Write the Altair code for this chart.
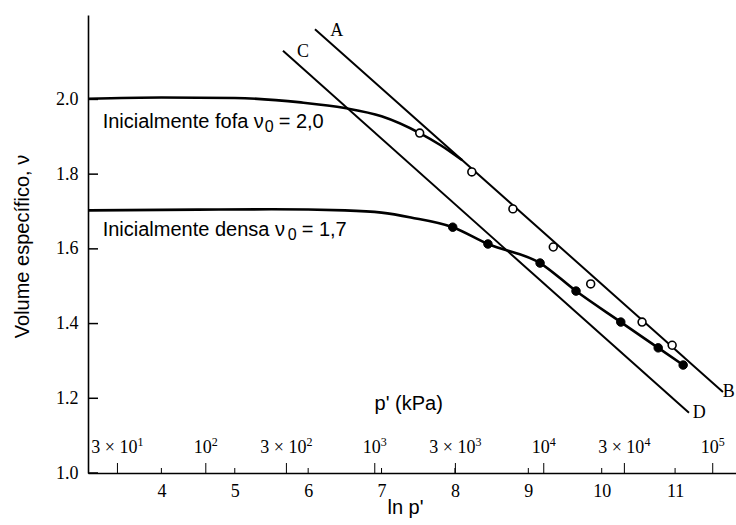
import math

import altair as alt
import pandas as pd

# Axis ranges: ln p' (horizontal) and specific volume v (vertical)
X_DOMAIN = [3.0, 11.83]
V_DOMAIN = [1.0, 2.226]

# Initially loose sample (v0 = 2.0): compression curve and measured points
loose_x = [3.0, 4.0, 5.0, 5.9, 6.5, 7.0, 7.52, 7.8, 8.1]
loose_v = [2.002, 2.005, 2.004, 1.992, 1.977, 1.955, 1.91, 1.878, 1.837]
loose_pts_x = [7.52, 8.23, 8.79, 9.34, 9.85, 10.55, 10.96]
loose_pts_v = [1.910, 1.806, 1.707, 1.605, 1.506, 1.404, 1.342]

# Initially dense sample (v0 = 1.7): compression curve and measured points
dense_x = [3.0, 4.5, 5.5, 6.5, 7.0, 7.4, 7.97, 8.45, 9.16, 9.65, 10.26, 10.77, 11.11]
dense_v = [1.703, 1.705, 1.706, 1.703, 1.697, 1.684, 1.658, 1.613, 1.562, 1.487,
           1.404, 1.335, 1.289]
dense_pts_x = [7.97, 8.45, 9.16, 9.65, 10.26, 10.77, 11.11]
dense_pts_v = [1.658, 1.613, 1.562, 1.487, 1.404, 1.335, 1.289]

# Straight lines A-B and C-D (end points)
ab_x = [6.093, 11.652]
ab_v = [2.188, 1.217]
cd_x = [5.657, 11.189]
cd_v = [2.130, 1.161]

# Letters at the line ends
letter_text = ["A", "B", "C", "D"]
letter_x = [6.39, 11.73, 5.93, 11.33]
letter_v = [2.183, 1.217, 2.127, 1.160]

# Curve captions: text before the subscript, subscript, text after it
caption_head = ["Inicialmente fofa ν", "Inicialmente densa ν"]
caption_sub = ["0", "0"]
caption_tail = ["= 2,0", "= 1,7"]
caption_x = [3.2, 3.2]
caption_v = [1.9395, 1.650]
caption_sub_dx = [162, 185]
caption_tail_dx = [176, 199]

# Axis ticks
v_ticks = [1.0, 1.2, 1.4, 1.6, 1.8, 2.0]
lnp_ticks = [4, 5, 6, 7, 8, 9, 10, 11]

# Pressure scale p' (kPa) drawn along the ln p' axis
p_pow10 = [100, 1000, 10000, 100000]
p_pow10_exp = ["2", "3", "4", "5"]
p_three = [30, 300, 3000, 30000]
p_three_exp = ["1", "2", "3", "4"]

W, H = 648, 458
SANS = "Liberation Sans"
SERIF = "Liberation Serif"

xs = alt.Scale(domain=X_DOMAIN, nice=False, zero=False)
ys = alt.Scale(domain=V_DOMAIN, nice=False, zero=False)

x_axis = alt.Axis(
    values=lnp_ticks, format="d", ticks=False, grid=False,
    domainColor="black", domainWidth=1.6,
    labelFont=SERIF, labelFontSize=18, labelColor="black", labelPadding=9,
    title="ln p'", titleFont=SANS, titleFontSize=20, titleFontWeight="normal",
    titleColor="black", titleX=317, titleY=34, titleAlign="center",
    titleBaseline="middle",
)
y_axis = alt.Axis(
    values=v_ticks, format=".1f", ticks=False, grid=False,
    domainColor="black", domainWidth=1.6,
    labelFont=SERIF, labelFontSize=18, labelColor="black", labelPadding=10,
    title="Volume específico, ν", titleFont=SANS, titleFontSize=20,
    titleFontWeight="normal", titleColor="black", titleAngle=270,
    titleX=-66, titleY=231, titleAlign="center", titleBaseline="middle",
)


def xq(field):
    return alt.X(f"{field}:Q", scale=xs, axis=x_axis)


def yq(field):
    return alt.Y(f"{field}:Q", scale=ys, axis=y_axis)


def line_layer(xv, vv, width, interp="linear"):
    df = pd.DataFrame({"x": xv, "v": vv, "o": range(len(xv))})
    return alt.Chart(df).mark_line(
        color="black", strokeWidth=width, interpolate=interp
    ).encode(x=xq("x"), y=yq("v"), order="o:Q")


ab = line_layer(ab_x, ab_v, 2)
cd = line_layer(cd_x, cd_v, 2)
loose_curve = line_layer(loose_x, loose_v, 2.6, "monotone")
dense_curve = line_layer(dense_x, dense_v, 2.6, "monotone")

open_pts = alt.Chart(pd.DataFrame({"x": loose_pts_x, "v": loose_pts_v})).mark_point(
    shape="circle", filled=True, fill="white", stroke="black",
    strokeWidth=1.6, size=62, opacity=1,
).encode(x=xq("x"), y=yq("v"))

filled_pts = alt.Chart(pd.DataFrame({"x": dense_pts_x, "v": dense_pts_v})).mark_point(
    shape="circle", filled=True, fill="black", stroke="black",
    strokeWidth=1, size=72, opacity=1,
).encode(x=xq("x"), y=yq("v"))

letters = alt.Chart(
    pd.DataFrame({"t": letter_text, "x": letter_x, "v": letter_v})
).mark_text(font=SERIF, fontSize=18, color="black", baseline="middle").encode(
    x=xq("x"), y=yq("v"), text="t:N"
)


def caption(i):
    df = pd.DataFrame({
        "x": [caption_x[i]], "v": [caption_v[i]],
        "h": [caption_head[i]], "s": [caption_sub[i]], "t": [caption_tail[i]],
    })
    base = alt.Chart(df)
    head = base.mark_text(
        font=SANS, fontSize=20, color="black", align="left", baseline="middle"
    ).encode(x=xq("x"), y=yq("v"), text="h:N")
    sub = base.mark_text(
        font=SANS, fontSize=16, color="black", align="left", baseline="middle",
        dx=caption_sub_dx[i], dy=5,
    ).encode(x=xq("x"), y=yq("v"), text="s:N")
    tail = base.mark_text(
        font=SANS, fontSize=20, color="black", align="left", baseline="middle",
        dx=caption_tail_dx[i],
    ).encode(x=xq("x"), y=yq("v"), text="t:N")
    return head + sub + tail


p_title = alt.Chart(pd.DataFrame({"t": ["p' (kPa)"], "x": [7.37], "v": [1.185]})).mark_text(
    font=SANS, fontSize=20, color="black", baseline="middle"
).encode(x=xq("x"), y=yq("v"), text="t:N")

# Inward ticks on the vertical axis
v_tick_marks = alt.Chart(pd.DataFrame({"v": v_ticks})).mark_rule(
    color="black", strokeWidth=1.5
).encode(y=yq("v"), x=alt.value(0), x2=alt.value(10))

# Short inward ticks for ln p'
lnp_tick_marks = alt.Chart(pd.DataFrame({"x": lnp_ticks})).mark_rule(
    color="black", strokeWidth=1
).encode(x=xq("x"), y=alt.value(H), y2=alt.value(H - 5))

# Pressure ticks and labels (p' in kPa, positioned at ln p')
p_all = p_three + p_pow10
p_tick_marks = alt.Chart(
    pd.DataFrame({"x": [math.log(p) for p in p_all]})
).mark_rule(color="black", strokeWidth=1).encode(
    x=xq("x"), y=alt.value(H), y2=alt.value(H - 10)
)

LABEL_ROW = H - 25


def p_labels(values, exps, base, dx):
    df = pd.DataFrame({
        "x": [math.log(p) for p in values],
        "b": [base] * len(values),
        "e": exps,
    })
    base_txt = alt.Chart(df).mark_text(
        font=SERIF, fontSize=18, color="black", align="right",
        baseline="middle", dx=dx,
    ).encode(x=xq("x"), y=alt.value(LABEL_ROW), text="b:N")
    exp_txt = alt.Chart(df).mark_text(
        font=SERIF, fontSize=12, color="black", align="left",
        baseline="middle", dx=dx, dy=-6,
    ).encode(x=xq("x"), y=alt.value(LABEL_ROW), text="e:N")
    return base_txt + exp_txt


pow10_labels = p_labels(p_pow10, p_pow10_exp, "10", 6)
three_labels = p_labels(p_three, p_three_exp, "3 × 10", 20)

chart = alt.layer(
    v_tick_marks, lnp_tick_marks, p_tick_marks,
    ab, cd, loose_curve, dense_curve,
    open_pts, filled_pts,
    letters, caption(0), caption(1), p_title, pow10_labels, three_labels,
).properties(
    width=W, height=H,
    padding={"left": 88, "top": 15, "right": 0, "bottom": 52},
    autosize=alt.AutoSizeParams(type="none"),
    background="white",
).configure_view(stroke=None)

chart.save("out.html", embed_options={"renderer": "svg", "actions": False})
